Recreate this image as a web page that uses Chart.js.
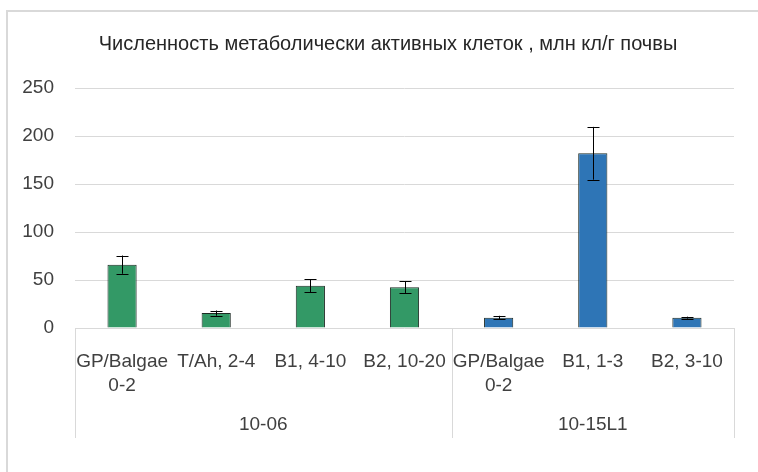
<!DOCTYPE html>
<html>
<head>
<meta charset="utf-8">
<script src="https://cdn.jsdelivr.net/npm/chart.js@4/dist/chart.umd.min.js"></script>
<style>
body { margin: 0; background: #fff; }
#frame { position: absolute; left: 6px; top: 10px; width: 800px; height: 520px; border: 2px solid #d9d9d9; }
canvas { position: absolute; left: 0; top: 0; }
</style>
</head>
<body>
<div id="frame"></div>
<canvas id="c" width="758" height="472"></canvas>
<script>
var title = "Численность метаболически активных клеток , млн кл/г почвы";
var labels = [["GP/Balgae", "0-2"], "T/Ah, 2-4", "B1, 4-10", "B2, 10-20", ["GP/Balgae", "0-2"], "B1, 1-3", "B2, 3-10"];
var values = [66, 15.5, 44, 42.5, 10.8, 182, 10.8];
var errors = [9.5, 2.7, 6.6, 6, 1.9, 27.5, 1];
var groups = ["10-06", "10-15L1"];
var groupSizes = [4, 3];
var barColors = ["#339966", "#339966", "#339966", "#339966", "#2e75b6", "#2e75b6", "#2e75b6"];
var yTicks = [0, 50, 100, 150, 200, 250];

var font = "'Liberation Sans', Arial, sans-serif";
var textColor = "#404040";
var lineColor = "#d9d9d9";

// error bars drawn through the scales
var errorBars = {
    id: "errorBars",
    afterDatasetsDraw: function(chart) {
        var ctx = chart.ctx;
        var y = chart.scales.y;
        var meta = chart.getDatasetMeta(0);
        ctx.save();
        ctx.strokeStyle = "#000";
        ctx.lineWidth = 1;
        for (var i = 0; i < values.length; i++) {
            var x = Math.round(meta.data[i].x) + 0.5;
            var top = y.getPixelForValue(values[i] + errors[i]);
            var bot = y.getPixelForValue(values[i] - errors[i]);
            ctx.beginPath();
            ctx.moveTo(x, top); ctx.lineTo(x, bot);
            ctx.moveTo(x - 6, Math.round(top) + 0.5); ctx.lineTo(x + 6, Math.round(top) + 0.5);
            ctx.moveTo(x - 6, Math.round(bot) + 0.5); ctx.lineTo(x + 6, Math.round(bot) + 0.5);
            ctx.stroke();
        }
        ctx.restore();
    }
};

// title (centred on the frame, not the plot) and the second level of the category axis
var groupAxis = {
    id: "groupAxis",
    afterDraw: function(chart) {
        var ctx = chart.ctx;
        var xs = chart.scales.x;
        var area = chart.chartArea;
        var half = (xs.getPixelForValue(1) - xs.getPixelForValue(0)) / 2;
        ctx.save();
        ctx.textAlign = "center";
        ctx.textBaseline = "middle";
        ctx.fillStyle = "#262626";
        ctx.font = "20px " + font;
        ctx.fillText(title, 388, 44);

        ctx.strokeStyle = lineColor;
        ctx.lineWidth = 1;
        ctx.fillStyle = textColor;
        ctx.font = "19px " + font;
        var start = 0;
        var edges = [];
        for (var g = 0; g < groups.length; g++) {
            var x0 = xs.getPixelForValue(start) - half;
            var x1 = xs.getPixelForValue(start + groupSizes[g] - 1) + half;
            edges.push(x0);
            if (g == groups.length - 1) edges.push(x1);
            ctx.fillText(groups[g], (x0 + x1) / 2, area.bottom + 97);
            start += groupSizes[g];
        }
        ctx.beginPath();
        for (var i = 0; i < edges.length; i++) {
            var ex = Math.round(edges[i]) + 0.5;
            ctx.moveTo(ex, area.bottom);
            ctx.lineTo(ex, area.bottom + 110);
        }
        ctx.stroke();
        ctx.restore();
    }
};

new Chart(document.getElementById("c"), {
    type: "bar",
    data: {
        labels: labels,
        datasets: [{
            data: values,
            backgroundColor: barColors,
            borderColor: "#1e2b25",
            borderWidth: 1,
            categoryPercentage: 1,
            barPercentage: 0.31
        }]
    },
    options: {
        responsive: false,
        animation: false,
        layout: { padding: { left: 0, right: 24, top: 88, bottom: 0 } },
        plugins: {
            legend: { display: false },
            tooltip: { enabled: false },
            title: { display: false }
        },
        scales: {
            x: {
                grid: { display: false },
                border: { display: false },
                ticks: {
                    color: textColor,
                    font: { family: font, size: 19, lineHeight: 1.3 },
                    padding: 13,
                    maxRotation: 0,
                    autoSkip: false
                },
                afterFit: function(s) { s.height = 144; }
            },
            y: {
                min: 0,
                max: 250,
                afterBuildTicks: function(s) { s.ticks = yTicks.map(function(v) { return { value: v }; }); },
                grid: { color: lineColor, drawTicks: false },
                border: { display: false },
                ticks: {
                    color: textColor,
                    font: { family: font, size: 19 },
                    padding: 21
                },
                afterFit: function(s) { s.width = 75; }
            }
        }
    },
    plugins: [errorBars, groupAxis]
});
</script>
</body>
</html>
